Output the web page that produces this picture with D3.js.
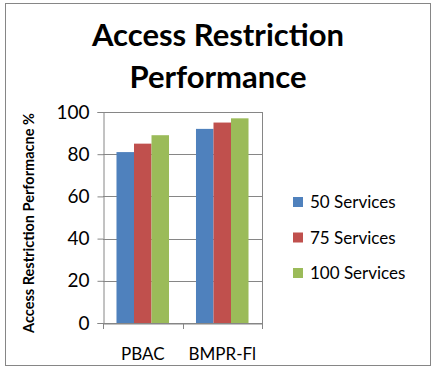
<!DOCTYPE html>
<html>
<head>
<meta charset="utf-8">
<script src="https://cdn.jsdelivr.net/npm/d3@7"></script>
<style>
body { margin: 0; background: #fff; }
text { font-family: Lato, "Open Sans", sans-serif; fill: #000; }
</style>
</head>
<body>
<div id="chart"></div>
<script>
var categories = ["PBAC", "BMPR-Fl"]
var seriesNames = ["50 Services", "75 Services", "100 Services"]
var seriesValues = [
    [81, 92],
    [85, 95],
    [89, 97]
]
var colors = ["#4F81BD", "#C0504D", "#9BBB59"]
var yTicks = [0, 20, 40, 60, 80, 100]

var svg = d3.select("#chart")
            .append("svg")
            .attr("width", 435)
            .attr("height", 372)

// outer frame
svg.append("rect")
    .attr("x", 5.5).attr("y", 3.5)
    .attr("width", 425).attr("height", 362)
    .style("fill", "none")
    .style("stroke", "#868686")

var plotLeft = 103, plotRight = 262, plotTop = 112, plotBottom = 323

var x = d3.scaleBand()
    .domain(categories)
    .range([plotLeft, plotRight])

var y = d3.scaleLinear()
    .domain([0, 100])
    .range([plotBottom, plotTop])

// gridlines
svg.append("g")
    .selectAll("line")
    .data(yTicks)
    .enter()
    .append("line")
    .attr("x1", plotLeft)
    .attr("x2", plotRight)
    .attr("y1", function(d) { return Math.round(y(d)) + 0.5 })
    .attr("y2", function(d) { return Math.round(y(d)) + 0.5 })
    .style("stroke", "#868686")

// plot right border
svg.append("line")
    .attr("x1", plotRight + 0.5).attr("x2", plotRight + 0.5)
    .attr("y1", plotTop).attr("y2", plotBottom)
    .style("stroke", "#868686")

// bars
var inner = d3.scaleBand()
    .domain(d3.range(seriesNames.length))
    .range([0, x.bandwidth()])
    .paddingOuter(0.77)
    .paddingInner(0)

seriesValues.forEach(function(vals, s) {
    svg.append("g")
        .selectAll("rect")
        .data(vals)
        .enter()
        .append("rect")
        .attr("x", function(d, i) { return x(categories[i]) + inner(s) })
        .attr("width", inner.bandwidth())
        .attr("y", function(d) { return y(d) })
        .attr("height", function(d) { return plotBottom - y(d) })
        .style("fill", colors[s])
})

// y axis
var yAxis = svg.append("g")
    .attr("transform", "translate(" + (plotLeft + 0.5) + ",0)")
    .call(d3.axisLeft(y).tickValues(yTicks).tickSize(6).tickPadding(8))
yAxis.select(".domain").style("stroke", "#868686")
yAxis.selectAll(".tick line").style("stroke", "#868686")
yAxis.selectAll("text")
    .style("font-size", "19px")
    .style("font-family", "Lato, sans-serif")
    .attr("fill", "#000")

// x axis
var xAxis = svg.append("g")
    .attr("transform", "translate(0," + (plotBottom + 0.5) + ")")
    .call(d3.axisBottom(x).tickSize(0).tickPadding(24))
xAxis.select(".domain").style("stroke", "#868686")
xAxis.selectAll("text")
    .style("font-size", "17px")
    .style("font-family", "Lato, sans-serif")
    .attr("fill", "#000")

// category separator ticks
svg.append("g")
    .selectAll("line")
    .data([plotLeft, x(categories[1]), plotRight])
    .enter()
    .append("line")
    .attr("x1", function(d) { return Math.round(d) + 0.5 })
    .attr("x2", function(d) { return Math.round(d) + 0.5 })
    .attr("y1", plotBottom)
    .attr("y2", plotBottom + 6)
    .style("stroke", "#868686")

// title
svg.append("text")
    .attr("x", 218).attr("y", 46)
    .attr("text-anchor", "middle")
    .style("font-size", "31px")
    .style("font-weight", "bold")
    .text("Access Restriction")
svg.append("text")
    .attr("x", 218).attr("y", 88)
    .attr("text-anchor", "middle")
    .style("font-size", "31px")
    .style("font-weight", "bold")
    .text("Performance")

// y title
svg.append("text")
    .attr("transform", "translate(34,223) rotate(-90)")
    .attr("text-anchor", "middle")
    .style("font-size", "14.5px")
    .style("font-weight", "bold")
    .text("Access Restriction Performacne %")

// legend
var legend = svg.append("g")
    .selectAll("g")
    .data(seriesNames)
    .enter()
    .append("g")
    .attr("transform", function(d, i) { return "translate(293," + (202 + i * 35.5) + ")" })
legend.append("rect")
    .attr("x", 0).attr("y", -5)
    .attr("width", 10).attr("height", 10)
    .style("fill", function(d, i) { return colors[i] })
legend.append("text")
    .attr("x", 17).attr("y", 6)
    .style("font-size", "17px")
    .text(function(d) { return d })
</script>
</body>
</html>
